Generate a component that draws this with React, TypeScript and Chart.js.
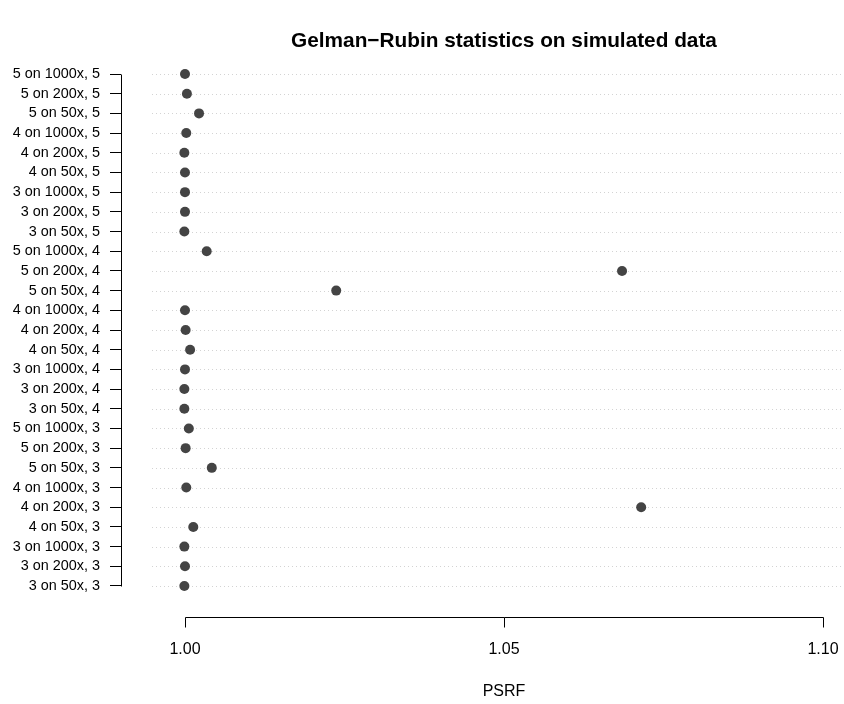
import React, { useEffect, useRef } from "react";
import { Chart, registerables } from "chart.js";

Chart.register(...registerables);

const TITLE = "Gelman\u2212Rubin statistics on simulated data";
const X_LABEL = "PSRF";

// rows listed top to bottom
const categories: string[] = [
  "5 on 1000x, 5", "5 on 200x, 5", "5 on 50x, 5",
  "4 on 1000x, 5", "4 on 200x, 5", "4 on 50x, 5",
  "3 on 1000x, 5", "3 on 200x, 5", "3 on 50x, 5",
  "5 on 1000x, 4", "5 on 200x, 4", "5 on 50x, 4",
  "4 on 1000x, 4", "4 on 200x, 4", "4 on 50x, 4",
  "3 on 1000x, 4", "3 on 200x, 4", "3 on 50x, 4",
  "5 on 1000x, 3", "5 on 200x, 3", "5 on 50x, 3",
  "4 on 1000x, 3", "4 on 200x, 3", "4 on 50x, 3",
  "3 on 1000x, 3", "3 on 200x, 3", "3 on 50x, 3",
];

const psrf: number[] = [
  1.0000, 1.0003, 1.0022,
  1.0002, 0.9999, 1.0000,
  1.0000, 1.0000, 0.9999,
  1.0034, 1.0685, 1.0237,
  1.0000, 1.0001, 1.0008,
  1.0000, 0.9999, 0.9999,
  1.0006, 1.0001, 1.0042,
  1.0002, 1.0715, 1.0013,
  0.9999, 1.0000, 0.9999,
];

const xTicks: number[] = [1.0, 1.05, 1.1];

const FONT = "'Liberation Sans', Arial, Helvetica, sans-serif";

export default function App() {
  const ref = useRef<HTMLCanvasElement | null>(null);

  useEffect(() => {
    const canvas = ref.current;
    if (!canvas) return;
    const n = categories.length;
    const rowOf = (i: number) => n - i;
    const points = psrf.map((v, i) => ({ x: v, y: rowOf(i) }));

    const decor = {
      id: "decor",
      beforeDatasetsDraw(chart: any) {
        const { ctx, chartArea, scales } = chart;
        const xs = scales.x;
        const ys = scales.y;
        ctx.save();
        // dotted grid lines
        ctx.strokeStyle = "#d3d3d3";
        ctx.lineWidth = 1;
        ctx.setLineDash([1, 3]);
        const gx0 = 152;
        for (let r = 1; r <= n; r++) {
          const y = Math.round(ys.getPixelForValue(r)) + 0.5;
          ctx.beginPath();
          ctx.moveTo(gx0, y);
          ctx.lineTo(chartArea.right, y);
          ctx.stroke();
        }
        ctx.setLineDash([]);
        ctx.strokeStyle = "#000";
        // y axis line
        const ax = Math.round(chartArea.left) + 0.5;
        ctx.beginPath();
        ctx.moveTo(ax, Math.round(ys.getPixelForValue(n)) + 0.5);
        ctx.lineTo(ax, Math.round(ys.getPixelForValue(1)) + 0.5);
        ctx.stroke();
        // x axis line + ticks
        const by = Math.round(chartArea.bottom) + 0.5;
        const x0 = Math.round(xs.getPixelForValue(xTicks[0])) + 0.5;
        const x1 = Math.round(xs.getPixelForValue(xTicks[xTicks.length - 1])) + 0.5;
        ctx.beginPath();
        ctx.moveTo(x0, by);
        ctx.lineTo(x1, by);
        xTicks.forEach((t) => {
          const tx = Math.round(xs.getPixelForValue(t)) + 0.5;
          ctx.moveTo(tx, by);
          ctx.lineTo(tx, by + 10);
        });
        ctx.stroke();
        ctx.restore();
      },
      afterDraw(chart: any) {
        const { ctx, scales } = chart;
        const xs = scales.x;
        const cx = (xs.getPixelForValue(xTicks[0]) + xs.getPixelForValue(xTicks[xTicks.length - 1])) / 2;
        ctx.save();
        ctx.fillStyle = "#000";
        ctx.textAlign = "center";
        ctx.textBaseline = "middle";
        ctx.font = `bold 20.8px ${FONT}`;
        ctx.fillText(TITLE, cx, 41);
        ctx.font = `16px ${FONT}`;
        ctx.fillText(X_LABEL, cx, 692);
        ctx.restore();
      },
    };

    const chart = new Chart(canvas, {
      type: "scatter",
      data: {
        datasets: [
          {
            data: points,
            backgroundColor: "#444444",
            borderColor: "#444444",
            pointRadius: 5,
            pointBorderWidth: 0,
          },
        ],
      },
      options: {
        animation: false,
        responsive: false,
        maintainAspectRatio: false,
        layout: { autoPadding: false, padding: { top: 55, left: 0, right: 0, bottom: 0 } },
        plugins: {
          legend: { display: false },
          title: { display: false },
          tooltip: { enabled: false },
        },
        scales: {
          x: {
            type: "linear",
            min: 0.98997,
            max: 1.10329,
            grid: { display: false, drawTicks: false },
            border: { display: false },
            afterBuildTicks: (s: any) => {
              s.ticks = xTicks.map((v) => ({ value: v }));
            },
            afterFit: (s: any) => {
              s.height = 87;
              s.paddingLeft = 0;
              s.paddingRight = 0;
            },
            ticks: {
              padding: 23,
              color: "#000",
              font: { family: FONT, size: 16 },
              maxRotation: 0,
              autoSkip: false,
              callback: (v: any) => Number(v).toFixed(2),
            },
          },
          y: {
            type: "linear",
            min: -0.5743,
            max: 27.965,
            grid: {
              display: true,
              drawOnChartArea: false,
              drawTicks: true,
              tickLength: 11,
              color: "#000",
              lineWidth: 1,
            },
            border: { display: false },
            afterBuildTicks: (s: any) => {
              s.ticks = categories.map((_, i) => ({ value: rowOf(i) }));
            },
            afterFit: (s: any) => {
              s.width = 121;
              s.paddingTop = 0;
              s.paddingBottom = 0;
            },
            ticks: {
              padding: 10,
              color: "#000",
              font: { family: FONT, size: 14.4 },
              autoSkip: false,
              callback: (v: any) => categories[n - Number(v)] ?? "",
            },
          },
        },
      },
      plugins: [decor],
    });
    return () => chart.destroy();
  }, []);

  return (
    <div style={{ position: "absolute", left: 0, top: 0, width: 844, height: 704, background: "#fff" }}>
      <canvas ref={ref} width={844} height={704} style={{ display: "block" }} />
    </div>
  );
}
